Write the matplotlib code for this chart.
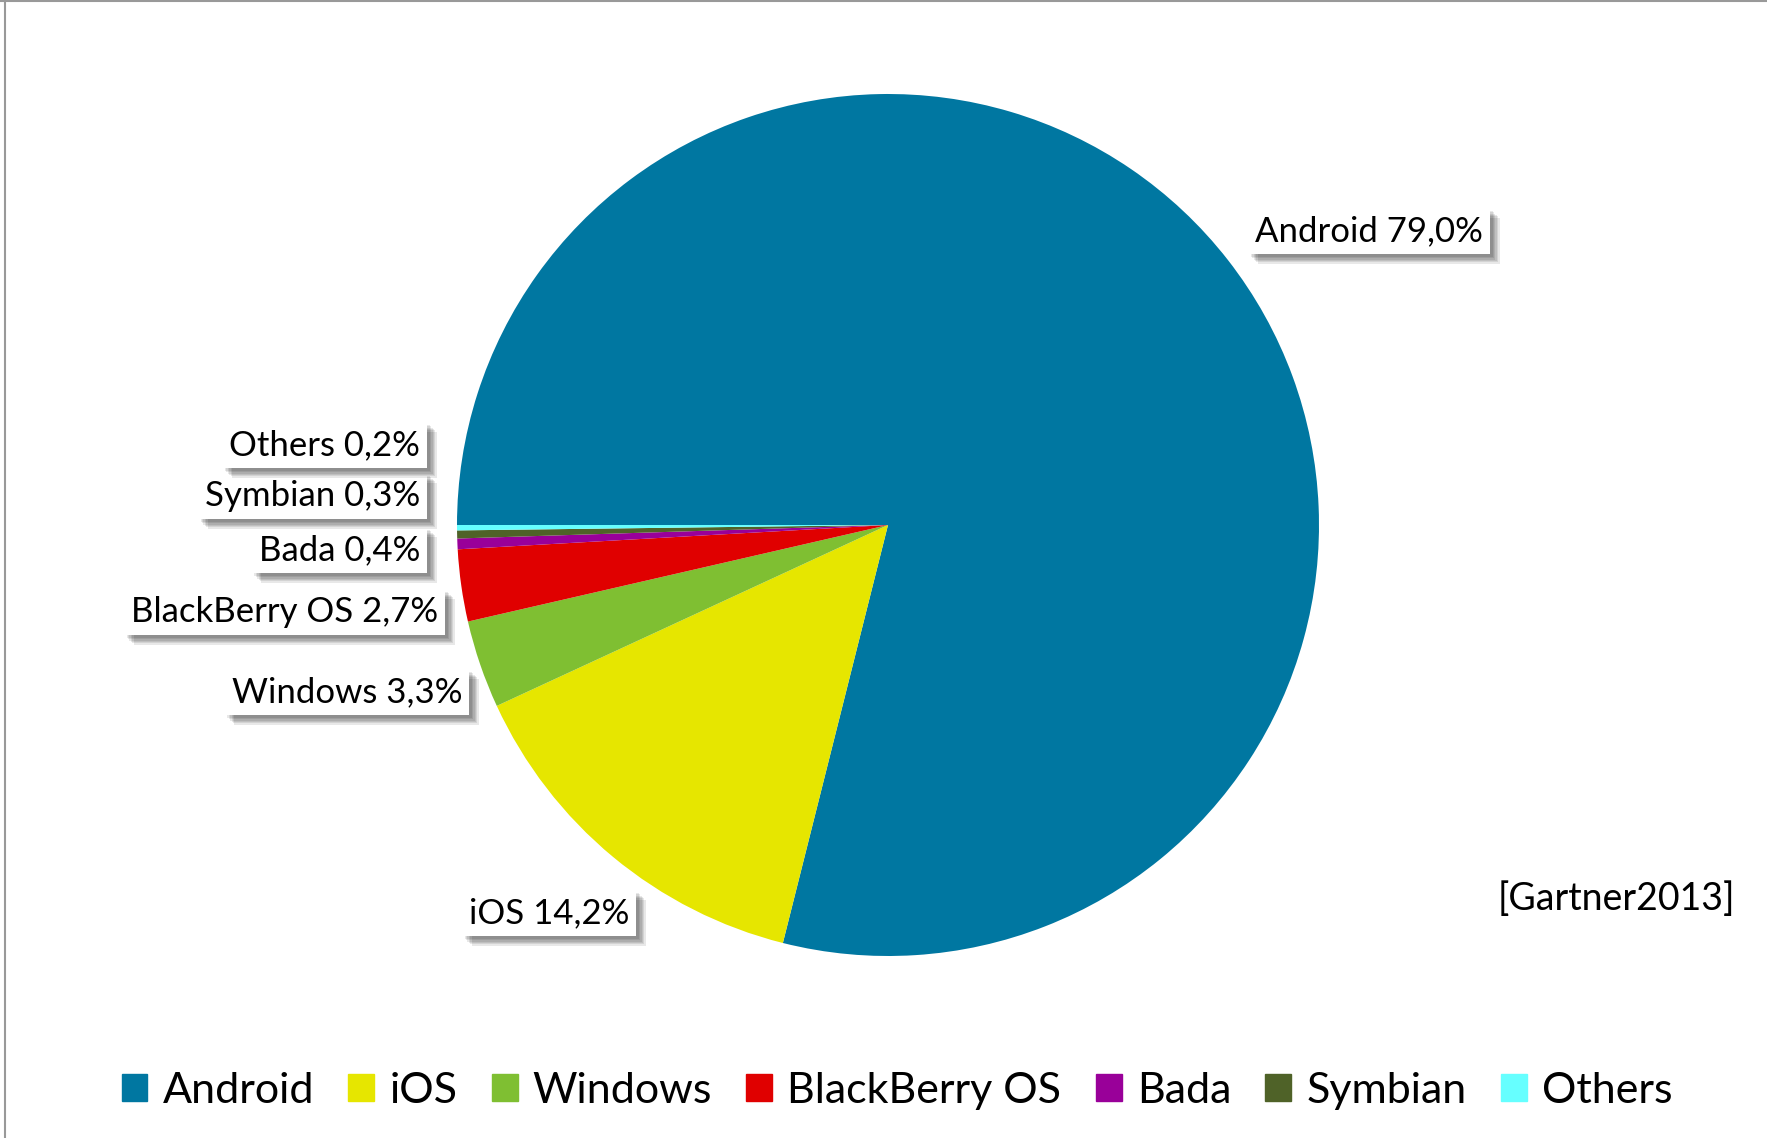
import matplotlib.pyplot as plt
import matplotlib.patches as mpatches
import matplotlib.patheffects as pe

plt.rcParams['font.family'] = ['Lato', 'DejaVu Sans']

# market share data (Gartner 2013)
systems = ['Android', 'iOS', 'Windows', 'BlackBerry OS', 'Bada', 'Symbian', 'Others']
shares = [79.0, 14.2, 3.3, 2.7, 0.4, 0.3, 0.2]
colors = ['#0077A1', '#E6E600', '#7FBF32', '#E00000', '#990099', '#4F6228', '#66FFFF']
share_labels = ['79,0%', '14,2%', '3,3%', '2,7%', '0,4%', '0,3%', '0,2%']

W, H = 1767, 1138
fig = plt.figure(figsize=(W / 100, H / 100), dpi=100)

# pie axes: centre and radius in pixels
cx, cy, r = 888, 525, 431
ax = fig.add_axes([(cx - r) / W, 1 - (cy + r) / H, 2 * r / W, 2 * r / H])
wedges, _ = ax.pie(shares, colors=colors, startangle=180, counterclock=False,
                   radius=1, wedgeprops=dict(linewidth=0))
ax.set_xlim(-1, 1)
ax.set_ylim(-1, 1)
ax.set_aspect('equal')
ax.axis('off')

# label positions in pixels (x, y, horizontal alignment)
label_pos = [(1369, 231, 'center'), (549, 913, 'center'), (462, 692, 'right'),
             (438, 612, 'right'), (420, 550, 'right'), (420, 496, 'right'),
             (420, 445, 'right')]

# soft drop shadow made of a few faint offset copies
shadow = [pe.SimplePatchShadow(offset=(d, -d), shadow_rgbFace='black', alpha=0.09)
          for d in (2, 3, 4, 5, 6, 7)] + [pe.Normal()]

for name, lab, (px, py, ha) in zip(systems, share_labels, label_pos):
    t = fig.text(px / W, 1 - py / H, f'{name} {lab}', ha=ha, va='center',
                 fontsize=25, color='black',
                 bbox=dict(boxstyle='square,pad=0.2', facecolor='white',
                           edgecolor='none'))
    t.get_bbox_patch().set_path_effects(shadow)

fig.text(1735 / W, 1 - 899 / H, '[Gartner2013]', ha='right', va='center',
         fontsize=27, color='black')

handles = [mpatches.Patch(color=c, label=s) for s, c in zip(systems, colors)]
fig.legend(handles=handles, loc='center', bbox_to_anchor=(897 / W, 1 - 1091 / H),
           ncol=7, frameon=False, fontsize=31, handlelength=0.6, handleheight=0.6,
           handletextpad=0.35, columnspacing=0.8)

# grey frame lines at top and left
fig.add_artist(plt.Line2D([5 / W, 5 / W], [0, 1], color='#999999', lw=1.5))
fig.add_artist(plt.Line2D([0, 1], [1 - 1 / H, 1 - 1 / H], color='#999999', lw=1.5))

fig.savefig('out.png', dpi=100, facecolor='white')
